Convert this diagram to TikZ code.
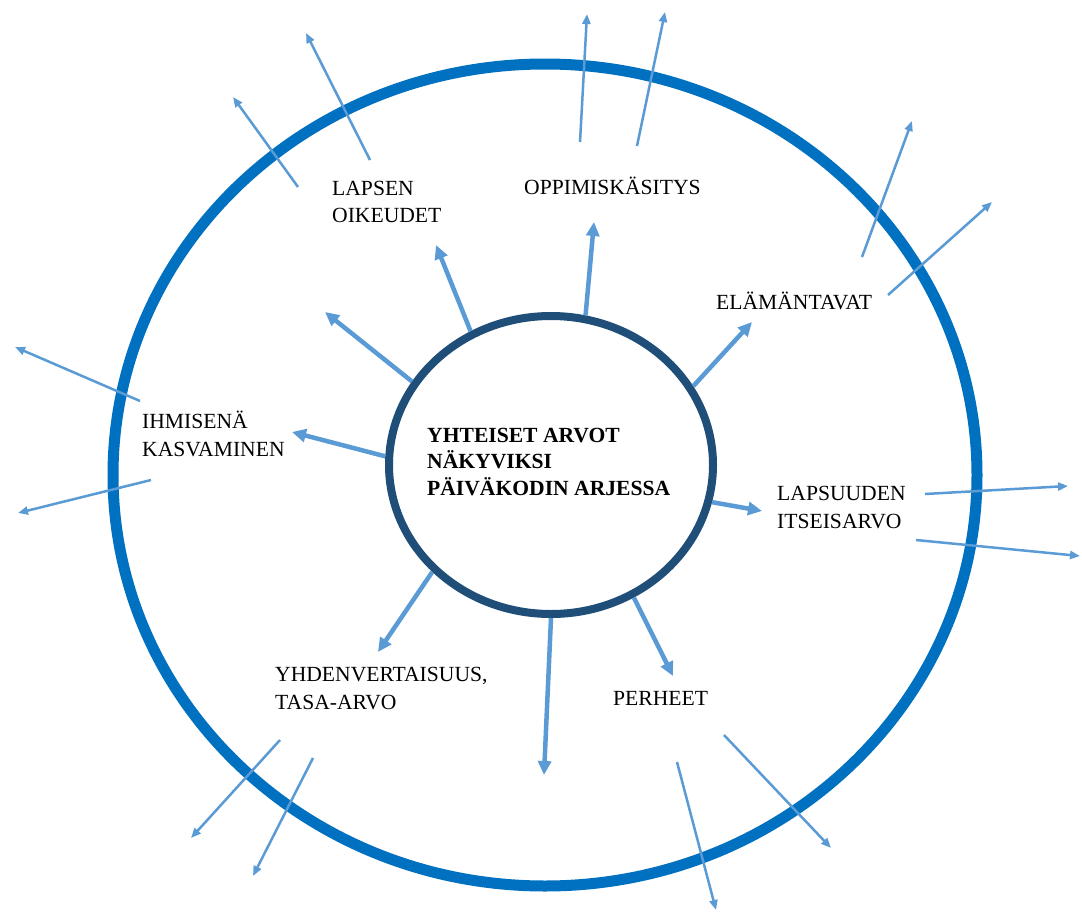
\documentclass[tikz,border=0pt]{standalone}
\usepackage{fontspec}
\setmainfont{Liberation Serif}
\usetikzlibrary{shapes.geometric,arrows.meta}
\definecolor{ringblue}{HTML}{0070C0}
\definecolor{coreblue}{HTML}{1F4E79}
\definecolor{arrowblue}{HTML}{5B9BD5}
\begin{document}
\begin{tikzpicture}[x=1pt,y=-1pt,
  ringshape/.style={draw=ringblue,line width=11pt,ellipse,minimum width=864pt,minimum height=822pt,inner sep=0pt},
  coreshape/.style={draw=coreblue,line width=8pt,ellipse,minimum width=324pt,minimum height=298pt,inner sep=0pt},
  lbl/.style={font=\fontsize{21.6}{27.5}\selectfont,align=left,anchor=base west,inner sep=0pt},
  corelbl/.style={lbl,font=\fontsize{21.6}{26.5}\selectfont\bfseries},
  inarrow/.style={draw=arrowblue,line width=4.5pt,-{Triangle[length=14pt,width=13pt]}},
  outarrow/.style={draw=arrowblue,line width=2.5pt,-{Triangle[length=10pt,width=8pt]}}]
\useasboundingbox (0,0) rectangle (1082,913);
\fill[white] (0,0) rectangle (1082,913);

% rings
\node[ringshape] (ring) at (545,475) {};
\node[coreshape] (core) at (551,465) {};
% multi-line labels are anchored at the baseline of their last line
\node[corelbl] (coretext) at (427,495) {YHTEISET ARVOT\\NÄKYVIKSI\\PÄIVÄKODIN ARJESSA};

% labels
\node[lbl] (lapsen) at (332,222.5) {LAPSEN\\OIKEUDET};
\node[lbl] (oppi) at (524,194) {OPPIMISKÄSITYS};
\node[lbl] (elama) at (716,309) {ELÄMÄNTAVAT};
\node[lbl] (ihmis) at (142,456) {IHMISENÄ\\KASVAMINEN};
\node[lbl] (lapsuus) at (777,528) {LAPSUUDEN\\ITSEISARVO};
\node[lbl] (perheet) at (613,705) {PERHEET};
\node[lbl] (yhden) at (275,709) {YHDENVERTAISUUS,\\TASA-ARVO};

% inner arrow tips
\coordinate (t1) at (436,245);
\coordinate (t2) at (325,312);
\coordinate (t3) at (292,432);
\coordinate (t4) at (594,222);
\coordinate (t5) at (752,322);
\coordinate (t6) at (762,511);
\coordinate (t7) at (673,676);
\coordinate (t8) at (544,775);
\coordinate (t9) at (378,652);

\draw[inarrow] (core.121.5) -- (t1);
\draw[inarrow] (core.149.3) -- (t2);
\draw[inarrow] (core.177.6) -- (t3);
\draw[inarrow] (core.77.3) -- (t4);
\draw[inarrow] (core.29.3) -- (t5);
\draw[inarrow] (core.-13.7) -- (t6);
\draw[inarrow] (core.-58.7) -- (t7);
\draw[inarrow] (core.-90.4) -- (t8);
\draw[inarrow] (core.-138.2) -- (t9);

% outer arrows
\coordinate (a1s) at (298,187); \coordinate (a1e) at (233,97);
\coordinate (a2s) at (370,160); \coordinate (a2e) at (306,33);
\coordinate (b1s) at (580,142); \coordinate (b1e) at (587,14);
\coordinate (b2s) at (637,146); \coordinate (b2e) at (665,12);
\coordinate (c1s) at (862,257); \coordinate (c1e) at (912,121);
\coordinate (c2s) at (888,295); \coordinate (c2e) at (992,202);
\coordinate (d1s) at (925,494); \coordinate (d1e) at (1068,486);
\coordinate (d2s) at (916,540); \coordinate (d2e) at (1080,556);
\coordinate (e1s) at (677,762); \coordinate (e1e) at (716,910);
\coordinate (e2s) at (724,735); \coordinate (e2e) at (831,848);
\coordinate (f1s) at (280,740); \coordinate (f1e) at (191,838);
\coordinate (f2s) at (313,758); \coordinate (f2e) at (253,876);
\coordinate (g1s) at (140,401); \coordinate (g1e) at (15,347);
\coordinate (g2s) at (151,480); \coordinate (g2e) at (18,513);

\foreach \p in {a1,a2,b1,b2,c1,c2,d1,d2,e1,e2,f1,f2,g1,g2}
  \draw[outarrow] (\p s) -- (\p e);
\end{tikzpicture}
\end{document}
